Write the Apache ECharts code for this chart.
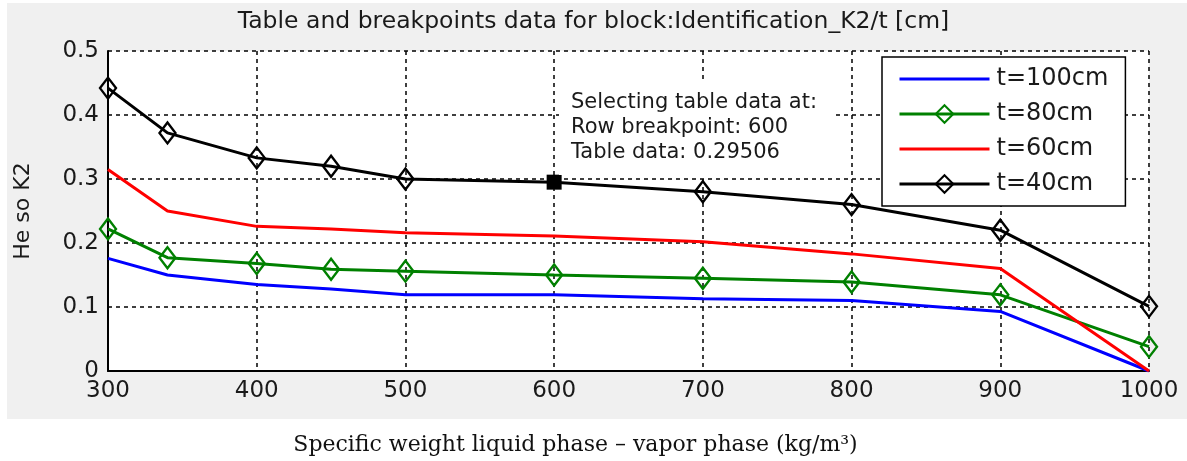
<!DOCTYPE html>
<html>
<head>
<meta charset="utf-8">
<script src="https://cdn.jsdelivr.net/npm/echarts@6/dist/echarts.min.js"></script>
<style>
html,body{margin:0;padding:0;background:#fff;}
#chart{width:1187px;height:461px;}
</style>
</head>
<body>
<div id="chart"></div>
<script>
// ---- data ----
var titleText = 'Table and breakpoints data for block:Identification_K2/t [cm]';
var xName = 'Specific weight liquid phase \u2013 vapor phase (kg/m\u00B3)';
var yName = 'He so K2';
var breakpoints = [300, 340, 400, 450, 500, 600, 700, 800, 900, 1000];
var seriesNames = ['t=100cm', 't=80cm', 't=60cm', 't=40cm'];
var seriesColors = ['#0000ff', '#008000', '#ff0000', '#000000'];
var t100 = [0.176, 0.150, 0.135, 0.128, 0.119, 0.119, 0.113, 0.110, 0.093, 0.000];
var t80  = [0.222, 0.177, 0.168, 0.159, 0.156, 0.150, 0.145, 0.139, 0.119, 0.038];
var t60  = [0.315, 0.250, 0.226, 0.222, 0.216, 0.211, 0.202, 0.183, 0.160, 0.000];
var t40  = [0.442, 0.372, 0.333, 0.320, 0.300, 0.295, 0.280, 0.260, 0.220, 0.101];
var hasMarker = [false, true, false, true];
var selectedRow = 600;
var selectedValue = 0.29506;
var annotationLines = ['Selecting table data at:', 'Row breakpoint: ' + selectedRow, 'Table data: ' + selectedValue];
var xTicks = {min: 300, max: 1000, step: 100};
var yTicks = {min: 0, max: 0.5, step: 0.1};

// ---- chart ----
var SANS = '"DejaVu Sans", Arial, sans-serif';
var chart = echarts.init(document.getElementById('chart'), null, {renderer: 'canvas'});

function pairs(vals, skipX) {
  return breakpoints.map(function (x, i) {
    if (skipX !== undefined && x === skipX) return {value: [x, vals[i]], symbol: 'none'};
    return [x, vals[i]];
  });
}
function lineSeries(idx, vals, skipX) {
  var color = seriesColors[idx], marker = hasMarker[idx];
  return {
    name: seriesNames[idx], type: 'line', data: pairs(vals, skipX),
    color: color,
    lineStyle: {color: color, width: 3},
    symbol: marker ? 'diamond' : 'none',
    symbolSize: [16, 21],
    itemStyle: {color: 'rgba(255,255,255,0)', borderColor: color, borderWidth: 2.4},
    showSymbol: !!marker,
    z: 3
  };
}

var option = {
  animation: false,
  backgroundColor: '#ffffff',
  title: {
    text: titleText, left: 'center', top: 5,
    textStyle: {fontFamily: SANS, fontSize: 23.5, fontWeight: 'normal', color: '#1a1a1a'}
  },
  grid: {left: 108, right: 38, top: 51, bottom: 83, show: true, backgroundColor: '#ffffff', borderWidth: 0},
  legend: {
    orient: 'vertical', left: 882, top: 57,
    data: seriesNames.map(function (n, i) {
      return hasMarker[i] ? {name: n} : {
        name: n, icon: 'path://M0,0L90,0L90,3L0,3Z',
        itemStyle: {color: seriesColors[i], borderWidth: 0}
      };
    }),
    selectedMode: false,
    symbolKeepAspect: true,
    lineStyle: {width: 3},
    backgroundColor: '#ffffff', borderColor: '#000', borderWidth: 1.5,
    padding: [10, 17, 10, 16],
    itemWidth: 90, itemHeight: 22, itemGap: 11,
    textStyle: {fontFamily: SANS, fontSize: 24, color: '#1a1a1a', padding: [0, 0, 0, 2]}
  },
  xAxis: {
    type: 'value', min: xTicks.min, max: xTicks.max, interval: xTicks.step,
    name: xName, nameLocation: 'middle', nameGap: 63,
    nameTextStyle: {fontFamily: '"DejaVu Serif", "Liberation Serif", serif', fontSize: 22, color: '#111', padding: [0, 106, 0, 0]},
    axisLine: {show: true, onZero: false, lineStyle: {color: '#000', width: 2}},
    axisTick: {show: false},
    axisLabel: {fontFamily: SANS, fontSize: 23, color: '#1a1a1a', margin: 9, formatter: function (v) { return String(v); }},
    splitLine: {show: true, lineStyle: {color: '#000', width: 1.5, type: [4, 4]}}
  },
  yAxis: {
    type: 'value', min: yTicks.min, max: yTicks.max, interval: yTicks.step,
    name: yName, nameLocation: 'middle', nameGap: 74, nameRotate: 90,
    nameTextStyle: {fontFamily: SANS, fontSize: 22, color: '#1a1a1a'},
    axisLine: {show: true, onZero: false, lineStyle: {color: '#000', width: 2}},
    axisTick: {show: false},
    axisLabel: {fontFamily: SANS, fontSize: 23, color: '#1a1a1a', margin: 9},
    splitLine: {show: true, lineStyle: {color: '#000', width: 1.5, type: [4, 4]}}
  },
  graphic: [
    {type: 'rect', z: -10, silent: true, shape: {x: 7, y: 3, width: 1180, height: 416}, style: {fill: '#f0f0f0'}},
    {type: 'rect', z: 10, silent: true, shape: {x: 559, y: 79, width: 277, height: 96}, style: {fill: '#ffffff'}},
    {type: 'text', z: 11, silent: true, left: 571, top: 90,
      style: {text: annotationLines.join('\n'), font: '21px ' + SANS, fill: '#1a1a1a', lineHeight: 25}}
  ],
  series: [
    lineSeries(0, t100),
    lineSeries(1, t80),
    lineSeries(2, t60),
    lineSeries(3, t40, selectedRow),
    {
      name: 'selected', type: 'scatter', data: [[selectedRow, selectedValue]],
      symbol: 'rect', symbolSize: 15, z: 5,
      itemStyle: {color: '#000', borderWidth: 0, opacity: 1}
    }
  ]
};
chart.setOption(option);
</script>
</body>
</html>
